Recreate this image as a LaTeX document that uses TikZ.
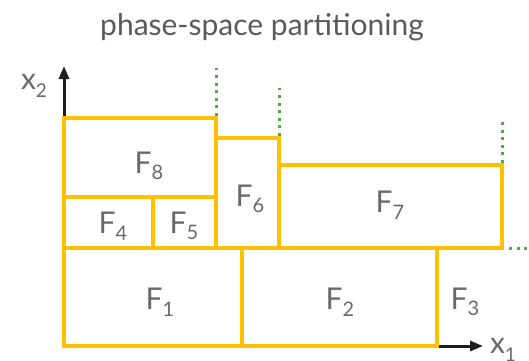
\documentclass[tikz,border=0pt]{standalone}
\usepackage{fontspec}
\setmainfont{Lato}
\usetikzlibrary{arrows.meta}
\definecolor{cellgold}{RGB}{255,192,0}
\definecolor{guidegreen}{RGB}{84,170,72}
\definecolor{labelgrey}{RGB}{105,105,105}
\definecolor{titlegrey}{RGB}{90,90,90}
\definecolor{axisblack}{RGB}{30,30,30}
\newcommand\cellname[2]{F\raisebox{-0.22em}{\fontsize{20}{20}\selectfont #2}}
\newcommand\axisname[2]{#1\raisebox{-0.25em}{\fontsize{19}{19}\selectfont #2}}
\tikzset{
  cell/.style={draw=cellgold, line width=3.6pt, line join=miter},
  guide/.style={draw=guidegreen, line width=3pt, dash pattern=on 3pt off 4.6pt},
  axis/.style={draw=axisblack, line width=3pt, -{Triangle[length=13pt,width=10pt]}},
  lbl/.style={text=labelgrey, font=\fontsize{30}{30}\selectfont, inner sep=0pt},
}
\begin{document}
\begin{tikzpicture}[x=1pt,y=-1pt]
\useasboundingbox (0,0) rectangle (529,360);
\node[text=titlegrey, font=\fontsize{30}{30}\selectfont, inner sep=0pt] (title) at (262,27) {phase-space partitioning};

% axes
\coordinate (o) at (64,346);
\coordinate (ytip) at (64,66);
\coordinate (xtip) at (483,346);
\draw[axis] (o) -- (ytip);
\draw[axis] (o) -- (xtip);
\node[lbl] (x2) at (34,86) {\axisname{x}{2}};
\node[lbl] (x1) at (503,350) {\axisname{x}{1}};

% dotted guides above the cell edges
\draw[guide] (216,116) -- (216,68);
\draw[guide] (279,136) -- (279,88);
\draw[guide] (502,163) -- (502,119);
\draw[guide] (509,248) -- (529,248);

% cells
\draw[cell] (64,118) rectangle (216,197);
\draw[cell] (64,197) rectangle (153,248);
\draw[cell] (153,197) rectangle (216,248);
\draw[cell] (216,138) rectangle (279,248);
\draw[cell] (279,165) rectangle (502,248);
\draw[cell] (64,248) rectangle (242,346);
\draw[cell] (242,248) rectangle (437,346);

\node[lbl] (f8) at (149,166) {\cellname{F}{8}};
\node[lbl] (f4) at (113,226) {\cellname{F}{4}};
\node[lbl] (f5) at (184,226) {\cellname{F}{5}};
\node[lbl] (f6) at (250,199) {\cellname{F}{6}};
\node[lbl] (f7) at (390,205) {\cellname{F}{7}};
\node[lbl] (f1) at (160,302) {\cellname{F}{1}};
\node[lbl] (f2) at (340,302) {\cellname{F}{2}};
\node[lbl] (f3) at (465,302) {\cellname{F}{3}};
\end{tikzpicture}
\end{document}
